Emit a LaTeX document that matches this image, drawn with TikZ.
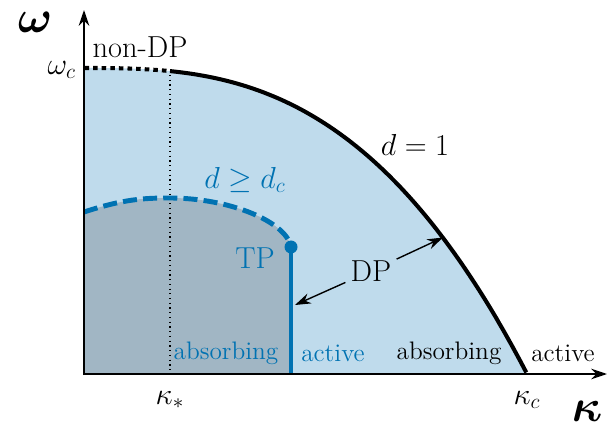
\documentclass[tikz,border=0pt]{standalone}
\usepackage{bm}
\usepackage{amsmath}
\usetikzlibrary{arrows.meta,calc}

\definecolor{lightfill}{RGB}{191,219,236}
\definecolor{grayfill}{RGB}{161,182,196}
\definecolor{tpblue}{RGB}{0,114,178}

\tikzset{
  phaseline/.style={line width=2.3pt, black},
  tpline/.style={line width=2.8pt, tpblue},
  lbl/.style={inner sep=1pt, font=\fontsize{14.4}{16}\selectfont},
  biglbl/.style={inner sep=1pt, font=\fontsize{17.28}{20}\selectfont},
  axislbl/.style={inner sep=0pt, scale=2.6},
  dparrow/.style={-{Stealth[length=9pt,width=6pt]}, line width=0.8pt, shorten <=2pt}
}

\begin{document}
\begin{tikzpicture}
    \useasboundingbox (-1.68,-1.04) rectangle (10.54,7.48);
    % --- Phase regions ---
    \fill[lightfill] (0,0) -- plot[domain=0.001:1, samples=120] ({8.86*\x}, {6.12*(1-\x^2.8)}) -- cycle;
    \fill[grayfill] (0,0) -- (0,3.24) .. controls (0.8,3.5) and (1.2,3.52) .. (1.72,3.52)
        .. controls (2.9,3.52) and (4.05,3.05) .. (4.14,2.54) -- (4.14,0) -- cycle;

    % kappa_* guide
    \draw[dotted, line width=0.7pt] (1.72,5.98) -- (1.72,0);

    % --- d = 1 line (non-DP part dotted) ---
    \draw[phaseline, dash pattern=on 2.6pt off 2.3pt] plot[domain=0.001:0.194, samples=20] ({8.86*\x}, {6.12*(1-\x^2.8)});
    \draw[phaseline] plot[domain=0.194:1, samples=120] ({8.86*\x}, {6.12*(1-\x^2.8)});

    % --- d >= d_c line ---
    \draw[tpline, dash pattern=on 8pt off 3.5pt] (0,3.24) .. controls (0.8,3.5) and (1.2,3.52) .. (1.72,3.52)
        .. controls (2.9,3.52) and (4.05,3.05) .. (4.14,2.54);
    \draw[tpline] (4.14,2.54) -- (4.14,0);
    \fill[tpblue] (4.14,2.54) circle (0.13);

    % --- Axes ---
    \draw[-{Stealth[length=9pt,width=6pt]}, line width=1.1pt] (0,-0.02) -- (0,7.28);
    \draw[-{Stealth[length=9pt,width=6pt]}, line width=1.1pt] (-0.02,0) -- (10.46,0);

    % --- Labels ---
    \node[axislbl] (omg) at (-0.98,7.04) {$\bm{\omega}$};
    \node[axislbl] (kap) at (10.06,-0.74) {$\bm{\kappa}$};
    \node[biglbl, anchor=east] (omgc) at (-0.12,6.08) {$\omega_c$};
    \node[biglbl] (kaps) at (1.72,-0.52) {$\kappa_*$};
    \node[biglbl] (kapc) at (8.86,-0.52) {$\kappa_c$};
    \node[biglbl] (ndp) at (1.12,6.54) {non-DP};
    \node[biglbl] (d1) at (6.62,4.58) {$d=1$};
    \node[biglbl, text=tpblue] (ddc) at (3.22,3.88) {$d\geq d_c$};
    \node[biglbl, text=tpblue] (tp) at (3.42,2.32) {TP};
    \node[biglbl] (dp) at (5.74,2.06) {DP};
    \node[lbl, text=tpblue] (abs1) at (2.84,0.42) {absorbing};
    \node[lbl, text=tpblue] (act1) at (4.98,0.42) {active};
    \node[lbl] (abs2) at (7.3,0.42) {absorbing};
    \node[lbl] (act2) at (9.58,0.42) {active};

    % DP arrows
    \coordinate (tipl) at (4.22,1.38);
    \coordinate (tipr) at (7.18,2.73);
    \draw[dparrow] (dp) -- (tipl);
    \draw[dparrow] (dp) -- (tipr);
\end{tikzpicture}
\end{document}
